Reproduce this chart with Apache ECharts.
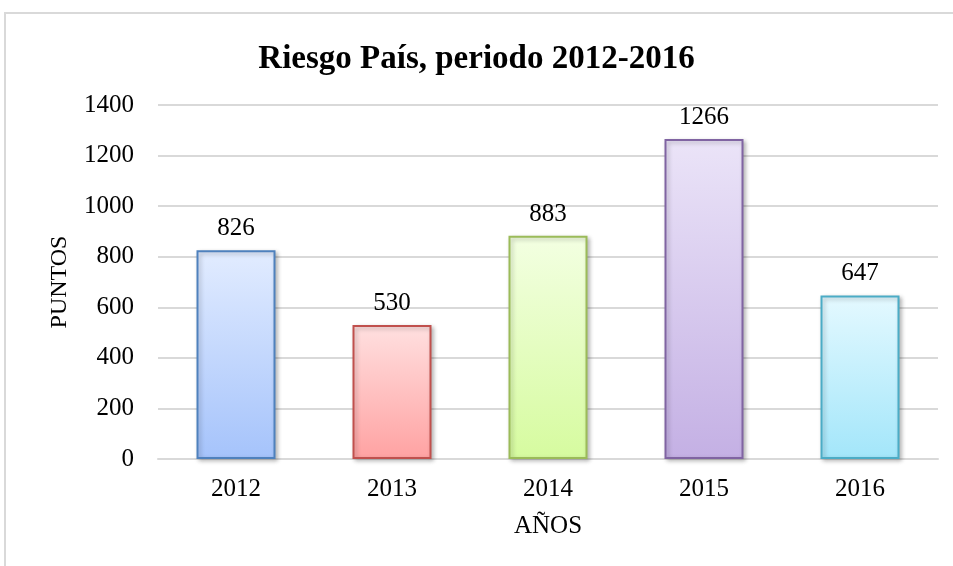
<!DOCTYPE html>
<html>
<head>
<meta charset="utf-8">
<script src="https://cdn.jsdelivr.net/npm/echarts@6/dist/echarts.min.js"></script>
<style>
  html, body { margin: 0; padding: 0; background: #fff; }
  #chart { width: 953px; height: 566px; }
</style>
</head>
<body>
<div id="chart"></div>
<script>
(function(){
  // Datos
  const years = ["2012", "2013", "2014", "2015", "2016"];
  const puntos = [826, 530, 883, 1266, 647];
  const yTicks = [0, 200, 400, 600, 800, 1000, 1200, 1400];

  // colores por barra: [arriba, abajo, borde]
  const palette = [
    ["#e2ecff", "#a5c3fb", "#4f81bd"],
    ["#ffe0e0", "#ffa2a2", "#c0504d"],
    ["#f3ffe2", "#d6fb9f", "#9bbb59"],
    ["#ebe4f8", "#c4b0e4", "#8064a2"],
    ["#e4f9ff", "#a3e6fa", "#4bacc6"]
  ];

  const serif = "'Liberation Serif', 'Times New Roman', serif";
  const chart = echarts.init(document.getElementById("chart"));

  const option = {
    backgroundColor: "#fff",
    animation: false,
    graphic: [{
      type: "rect",
      shape: { x: 5, y: 13, width: 960, height: 570 },
      style: { fill: "none", stroke: "#d9d9d9", lineWidth: 2 }
    }],
    title: {
      text: "Riesgo País, periodo 2012-2016",
      left: "center",
      top: 38,
      textStyle: { fontFamily: serif, fontSize: 33, fontWeight: "bold", color: "#000" }
    },
    grid: { left: 158, right: 15, top: 105, bottom: 107 },
    xAxis: {
      type: "category",
      data: years,
      name: "AÑOS",
      nameLocation: "middle",
      nameGap: 55,
      nameTextStyle: { fontFamily: serif, fontSize: 25, color: "#000" },
      axisLine: { lineStyle: { color: "#d9d9d9", width: 2 } },
      axisTick: { show: false },
      axisLabel: { fontFamily: serif, fontSize: 25, color: "#000", margin: 18 }
    },
    yAxis: {
      type: "value",
      min: yTicks[0],
      max: yTicks[yTicks.length - 1],
      interval: 200,
      name: "PUNTOS",
      nameLocation: "middle",
      nameGap: 86,
      nameTextStyle: { fontFamily: serif, fontSize: 24, color: "#000" },
      axisLine: { show: false },
      axisTick: { show: false },
      splitLine: { lineStyle: { color: "#d9d9d9", width: 2 } },
      axisLabel: {
        fontFamily: serif, fontSize: 25, color: "#000", margin: 24,
        formatter: v => String(v)
      }
    },
    series: [{
      type: "bar",
      barWidth: 79,
      data: puntos.map((v, i) => ({
        value: v,
        itemStyle: {
          color: new echarts.graphic.LinearGradient(0, 0, 0, 1, [
            { offset: 0, color: palette[i][0] },
            { offset: 1, color: palette[i][1] }
          ]),
          borderColor: palette[i][2],
          borderWidth: 2,
          shadowColor: "rgba(0,0,0,0.25)",
          shadowBlur: 4,
          shadowOffsetX: 2,
          shadowOffsetY: 2
        }
      })),
      label: {
        show: true,
        position: "top",
        distance: 9,
        fontFamily: serif,
        fontSize: 25,
        color: "#000"
      }
    }]
  };

  chart.setOption(option);
  window.addEventListener("resize", () => chart.resize());
})();
</script>
</body>
</html>
